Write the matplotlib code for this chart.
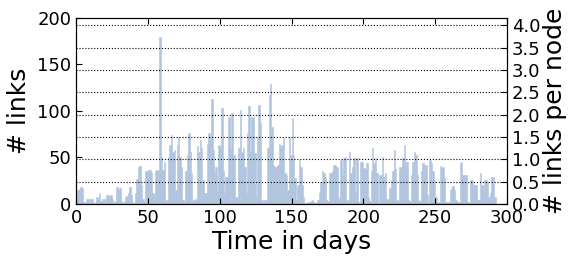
import matplotlib
matplotlib.use("Agg")
from matplotlib import pyplot as plt
import numpy as np

# links per day
links = [
    14, 15, 16, 18, 17, 2, 1, 5, 5, 4,
    5, 5, 1, 2, 8, 5, 12, 3, 5, 5,
    1, 10, 10, 9, 10, 5, 2, 3, 18, 15,
    17, 3, 1, 2, 8, 9, 12, 18, 10, 2,
    1, 12, 27, 40, 41, 20, 5, 2, 36, 36,
    37, 37, 33, 12, 10, 36, 37, 36, 180, 50,
    37, 45, 4, 3, 51, 63, 74, 56, 58, 15,
    63, 72, 51, 40, 4, 3, 35, 53, 76, 56,
    33, 4, 3, 5, 62, 56, 69, 60, 26, 12,
    12, 65, 76, 70, 113, 58, 33, 40, 13, 63,
    61, 103, 35, 12, 29, 29, 94, 58, 98, 53,
    53, 8, 6, 60, 101, 56, 60, 40, 12, 76,
    105, 56, 94, 94, 55, 8, 71, 106, 87, 4,
    3, 4, 4, 60, 117, 129, 83, 42, 40, 40,
    42, 65, 61, 63, 71, 33, 31, 15, 72, 53,
    92, 53, 28, 4, 20, 47, 40, 20, 8, 1,
    1, 2, 1, 3, 4, 2, 1, 1, 4, 12,
    24, 36, 33, 29, 4, 3, 33, 33, 36, 42,
    42, 40, 8, 4, 47, 31, 49, 50, 4, 3,
    56, 33, 40, 49, 13, 49, 2, 2, 45, 45,
    39, 38, 44, 8, 3, 35, 60, 44, 49, 33,
    2, 31, 31, 51, 29, 33, 5, 4, 17, 26,
    36, 58, 38, 4, 3, 40, 40, 49, 63, 45,
    45, 4, 3, 31, 45, 56, 53, 31, 4, 3,
    35, 44, 42, 42, 10, 2, 47, 44, 36, 26,
    7, 2, 2, 41, 38, 40, 28, 2, 2, 2,
    15, 17, 19, 15, 4, 2, 2, 44, 45, 31,
    31, 31, 2, 2, 26, 26, 20, 20, 20, 4,
    4, 33, 20, 19, 26, 26, 24, 7, 12, 29,
    29, 8,
]
days = np.arange(len(links))
nNodes = 48     # links / nodes scaling for the right axis

xTicks = [0, 50, 100, 150, 200, 250, 300]
leftTicks = [0, 50, 100, 150, 200]
rightTicks = [0.0, 0.5, 1.0, 1.5, 2.0, 2.5, 3.0, 3.5, 4.0]

fig = plt.figure(figsize=(5.69, 2.6), dpi=100)
ax = fig.add_axes([0.1336, 0.2154, 0.7575, 0.7154])

ax.bar(days, links, width=1.0, align='edge', color='#b0c4de',
       edgecolor='#b0c4de', linewidth=0.4)
ax.set_xlim(0, 300)
ax.set_ylim(0, 200)
ax.set_xticks(xTicks)
ax.set_yticks(leftTicks)
ax.tick_params(direction='in', top=True, labelsize=13, length=4)
ax.set_xlabel("Time in days", fontsize=18, labelpad=2)
ax.set_ylabel("# links", fontsize=18, labelpad=4)

ax2 = ax.twinx()
ax2.set_ylim(0, 200.0 / nNodes)
ax2.set_yticks(rightTicks)
ax2.set_yticklabels(["%.1f" % t for t in rightTicks])
ax2.tick_params(direction='in', labelsize=13, length=4)
ax2.grid(True, axis='y', color='black', linestyle=':', linewidth=0.8)
ax2.set_ylabel("# links per node", fontsize=18, labelpad=2)

fig.savefig("out.png", dpi=100)
